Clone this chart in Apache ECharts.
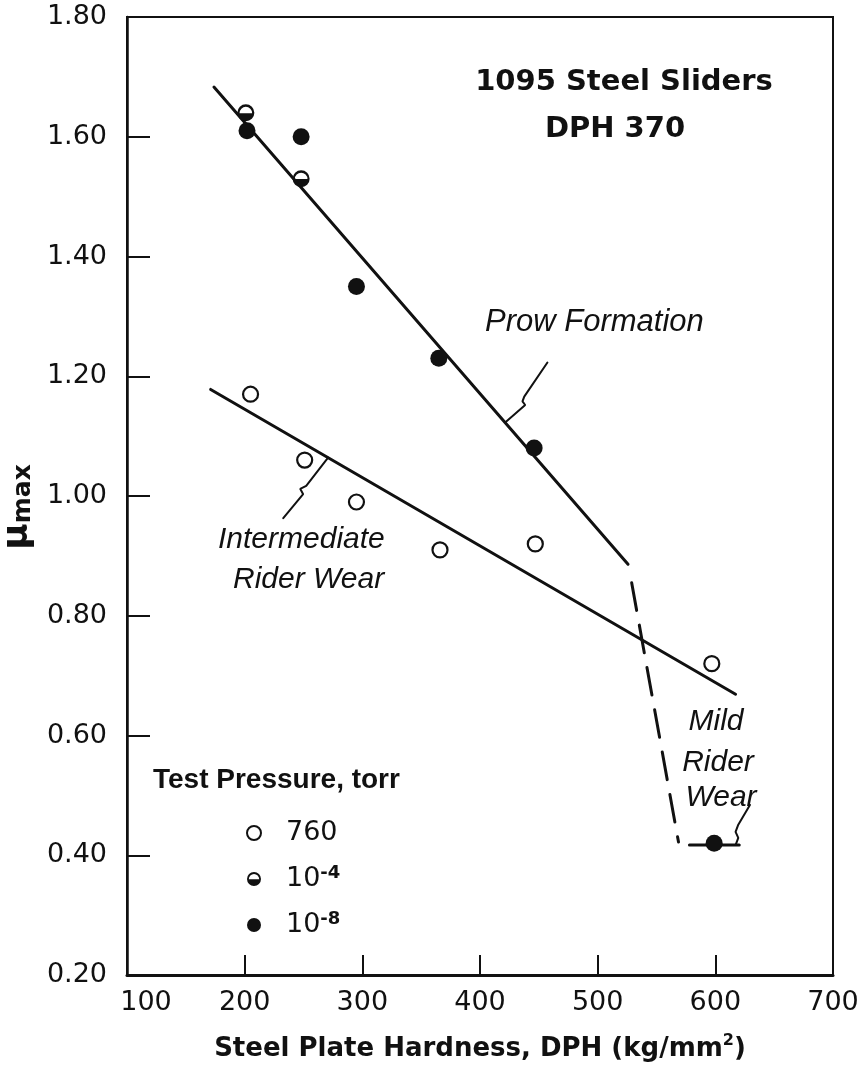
<!DOCTYPE html>
<html>
<head>
<meta charset="utf-8">
<script src="https://cdn.jsdelivr.net/npm/echarts@6/dist/echarts.min.js"></script>
<style>
  html, body { margin: 0; padding: 0; background: #fff; }
  #chart { width: 868px; height: 1071px; }
</style>
</head>
<body>
<div id="chart"></div>
<script>
// points, [DPH, mu max]
var open760 = [[205, 1.17], [251, 1.06], [295, 0.99], [366, 0.91], [447, 0.92], [597, 0.72]];
var half1e4 = [[201, 1.64], [248, 1.53]];
var filled1e8 = [[202, 1.61], [248, 1.60], [295, 1.35], [365, 1.23], [446, 1.08], [599, 0.42]];

// fitted lines and leaders
var prowLine = [[173.9, 1.683], [525.8, 0.886]];
var riderLine = [[171.1, 1.178], [617.2, 0.669]];
var dashLine = [[528.9, 0.855], [568.7, 0.422]];
var mildLine = [[578, 0.417], [620.3, 0.417]];
var prowLeader = [[457.3, 1.223], [437.6, 1.166], [436.1, 1.158], [438.4, 1.152], [422.1, 1.124]];
var riderLeader = [[232.8, 0.963], [249.7, 1.003], [247.2, 1.012], [252.3, 1.017], [270.9, 1.064]];
var mildLeader = [[629.4, 0.484], [619.5, 0.451], [617.2, 0.439], [619.5, 0.429], [617.2, 0.417]];

var xTicks = [100, 200, 300, 400, 500, 600, 700];
var pressureNames = ['760', '10^-4', '10^-8'];

var ink = '#111';
var halfPath = 'path://M0,10 A10,10 0 1,1 20,10 A10,10 0 1,1 0,10 Z M2.6,10.4 L17.4,10.4 A7.4,7.4 0 0,0 2.6,10.4 Z';

var chart = echarts.init(document.getElementById('chart'));

function lineSeries(data, width, type) {
    return {
        type: 'line',
        data: data,
        symbol: 'none',
        silent: true,
        z: 1,
        lineStyle: { color: ink, width: width, type: type || 'solid', cap: 'round' }
    };
}

var bigText = { fill: ink, fontFamily: 'DejaVu Sans', fontWeight: 'bold', fontSize: 29 };
var italicText = { fill: ink, fontFamily: 'Liberation Sans', fontStyle: 'italic', fontSize: 30 };

function txt(x, y, s, style, align) {
    return {
        type: 'text', x: x, y: y,
        style: Object.assign({ text: s, align: align || 'left', verticalAlign: 'middle' }, style)
    };
}

var option = {
    backgroundColor: '#fff',
    animation: false,
    grid: {
        left: 127, right: 35, top: 17, bottom: 96,
        containLabel: false, outerBoundsMode: 'none',
        show: true, borderColor: ink, borderWidth: 2
    },
    xAxis: {
        type: 'value', min: 100, max: 700, interval: 100,
        axisLine: { lineStyle: { color: ink, width: 3 } },
        axisTick: { inside: true, length: 20, lineStyle: { color: ink, width: 2 } },
        splitLine: { show: false },
        axisLabel: {
            color: ink, fontFamily: 'DejaVu Sans', fontSize: 27, margin: 14,
            formatter: function (v) { return v === xTicks[0] ? '{first|' + v + '}' : String(v); },
            rich: { first: { fontFamily: 'DejaVu Sans', fontSize: 27, color: ink, padding: [0, 0, 0, 38] } }
        },
        name: 'Steel Plate Hardness, DPH (kg/mm{sup|2})',
        nameLocation: 'middle', nameGap: 58,
        nameTextStyle: {
            color: ink, fontFamily: 'DejaVu Sans', fontWeight: 'bold', fontSize: 26, lineHeight: 32,
            rich: { sup: { fontFamily: 'DejaVu Sans', fontWeight: 'bold', fontSize: 16, color: ink, verticalAlign: 'top' } }
        }
    },
    yAxis: {
        type: 'value', min: 0.2, max: 1.8, interval: 0.2,
        axisLine: { show: true, lineStyle: { color: ink, width: 2.5 } },
        axisTick: { show: true, inside: true, length: 23, lineStyle: { color: ink, width: 2 } },
        splitLine: { show: false },
        axisLabel: {
            color: ink, fontFamily: 'DejaVu Sans', fontSize: 27, margin: 20,
            formatter: function (v) { return v.toFixed(2); }
        },
        name: '{mu|\u03bc}{sub|max}',
        nameLocation: 'middle', nameRotate: 90, nameGap: 68,
        nameTextStyle: {
            color: ink, padding: [0, 22, 0, 0],
            rich: {
                mu: { fontFamily: 'DejaVu Sans', fontWeight: 'bold', fontSize: 36, color: ink },
                sub: { fontFamily: 'DejaVu Sans', fontWeight: 'bold', fontSize: 25, color: ink, verticalAlign: 'bottom' }
            }
        }
    },
    legend: {
        data: pressureNames,
        orient: 'vertical',
        left: 241, top: 813,
        itemWidth: 14, itemHeight: 14, itemGap: 16,
        selectedMode: false,
        formatter: function (name) {
            var p = name.split('^');
            return p.length > 1 ? p[0] + '{sup|' + p[1] + '}' : name;
        },
        textStyle: {
            color: ink, fontFamily: 'DejaVu Sans', fontSize: 27, lineHeight: 30, padding: [0, 0, 0, 20],
            rich: { sup: { fontFamily: 'DejaVu Sans', fontWeight: 'bold', fontSize: 18, color: ink, verticalAlign: 'top' } }
        }
    },
    graphic: [
        txt(624, 82, '1095 Steel Sliders', bigText, 'center'),
        txt(615, 129, 'DPH 370', bigText, 'center'),
        txt(485, 322, 'Prow Formation', Object.assign({}, italicText, { fontSize: 31 })),
        txt(218, 540, 'Intermediate', italicText),
        txt(233, 580, 'Rider Wear', italicText),
        txt(716, 722, 'Mild', italicText, 'center'),
        txt(718, 763, 'Rider', italicText, 'center'),
        txt(721, 798, 'Wear', italicText, 'center'),
        txt(153, 780, 'Test Pressure, torr', { fill: ink, fontFamily: 'Liberation Sans', fontWeight: 'bold', fontSize: 28 })
    ],
    series: [
        lineSeries(prowLine, 3),
        lineSeries(riderLine, 3),
        lineSeries(dashLine, 3, [28, 15]),
        lineSeries(mildLine, 3),
        lineSeries(prowLeader, 2),
        lineSeries(riderLeader, 2),
        lineSeries(mildLeader, 2),
        {
            name: pressureNames[0], type: 'scatter', data: open760, z: 3,
            symbol: 'circle', symbolSize: 15,
            itemStyle: { color: '#fff', borderColor: ink, borderWidth: 2.2, opacity: 1 }
        },
        {
            name: pressureNames[1], type: 'scatter', data: half1e4, z: 3,
            symbol: halfPath, symbolSize: 17,
            itemStyle: { color: ink, borderWidth: 0, opacity: 1 }
        },
        {
            name: pressureNames[2], type: 'scatter', data: filled1e8, z: 3,
            symbol: 'circle', symbolSize: 17,
            itemStyle: { color: ink, opacity: 1 }
        }
    ]
};

chart.setOption(option);
</script>
</body>
</html>
